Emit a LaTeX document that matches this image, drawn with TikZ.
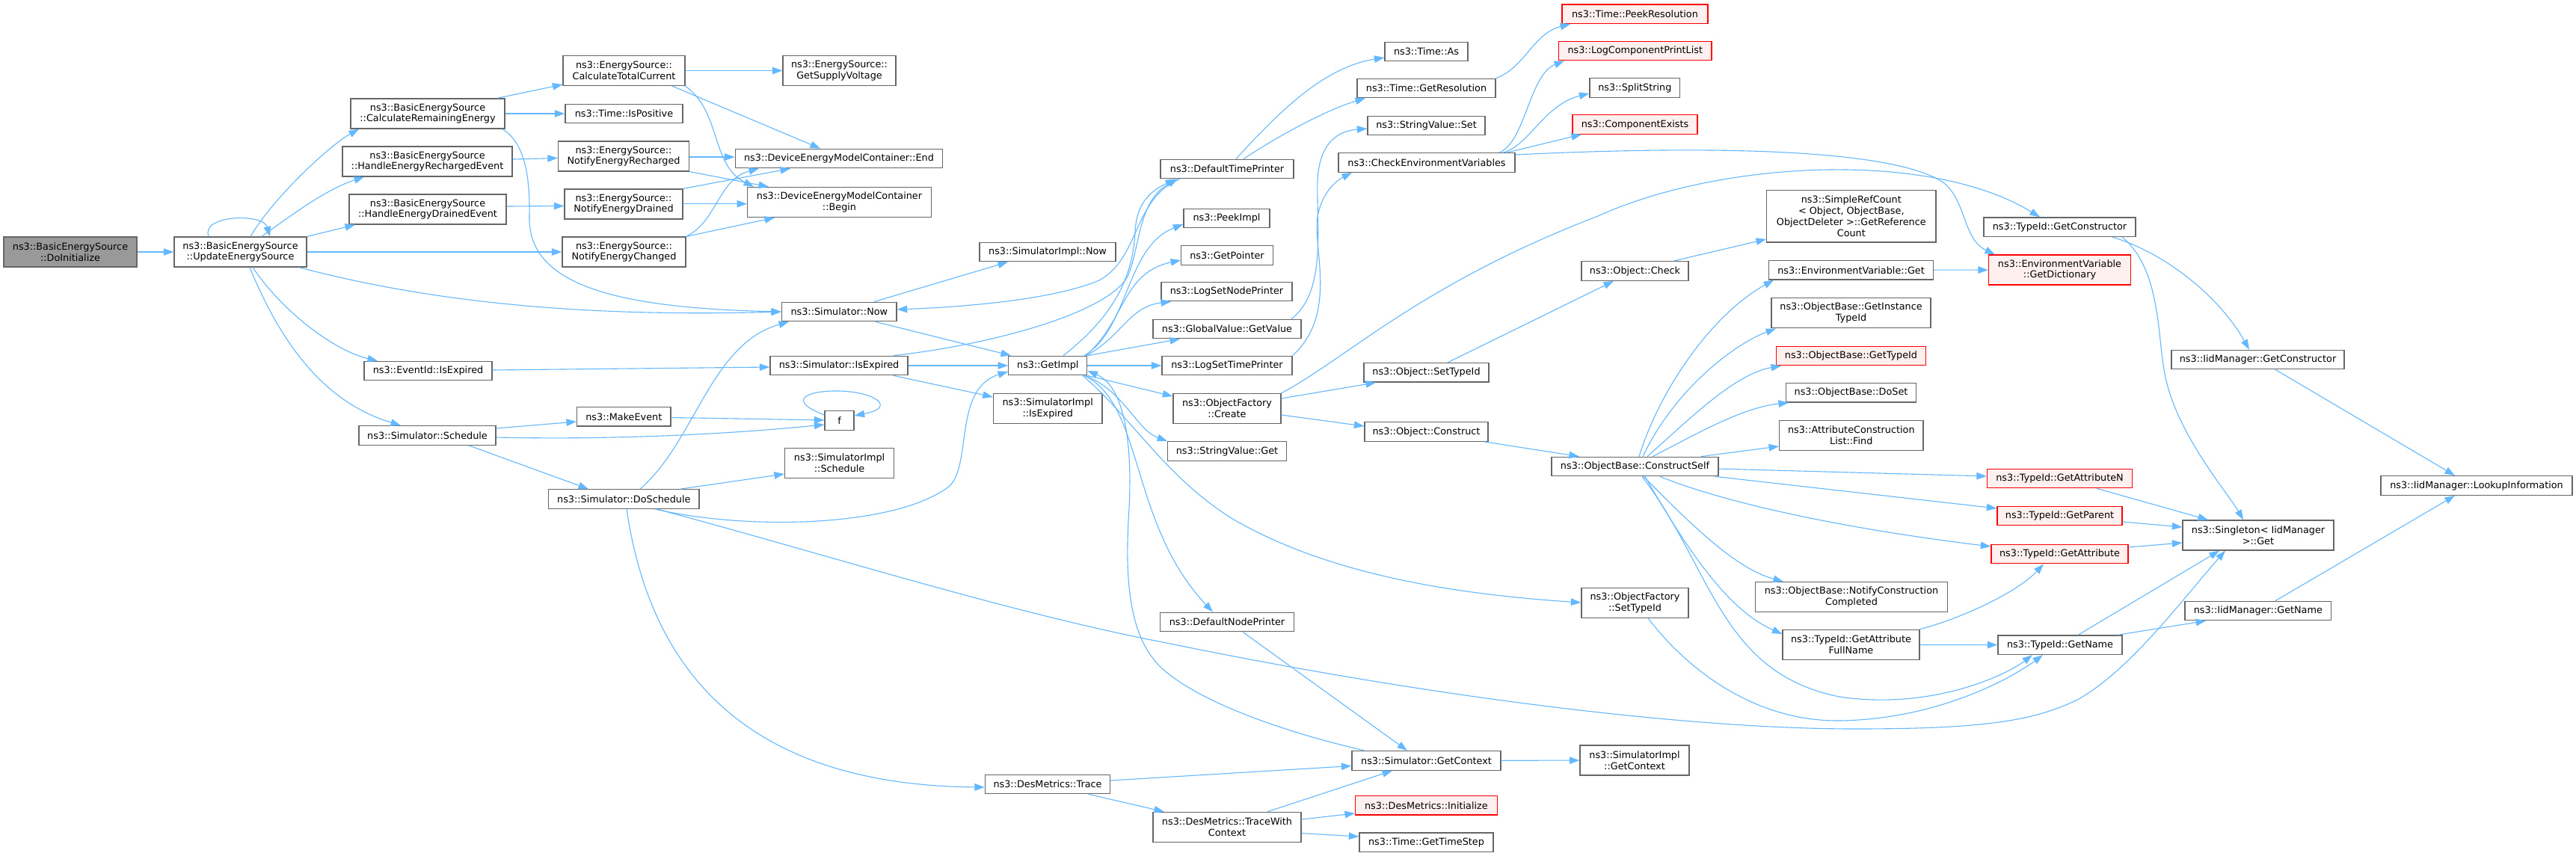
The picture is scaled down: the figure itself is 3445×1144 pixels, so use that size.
\documentclass[tikz,border=0pt]{standalone}
\usepackage{fontspec}
\newfontfamily\dv{DejaVu Sans}
\usetikzlibrary{arrows.meta}
\definecolor{edgeblue}{HTML}{63B8FF}
\definecolor{boxgray}{HTML}{666666}
\definecolor{boxred}{HTML}{FF0000}
\definecolor{redfill}{HTML}{FFF0F0}
\definecolor{rootgray}{HTML}{999999}
\tikzset{
  box/.style={draw=boxgray, fill=white, line width=1.3pt, inner sep=0pt, align=center,
    font={\dv\fontsize{12.8}{14.8}\selectfont}},
  rbox/.style={box, draw=boxred, fill=redfill},
  wd/.style={minimum width=#1pt},
  one/.style={minimum height=25.5pt},
  two/.style={minimum height=40pt},
  edge/.style={draw=edgeblue, line width=1.1pt, -{Triangle[length=13.5pt,width=9.5pt]}},
}
\begin{document}
\begin{tikzpicture}[x=1pt,y=-1pt]
\useasboundingbox (0,0) rectangle (3445,1144);
\fill[white] (0,0) rectangle (3445,1144);
% column 0-2
\node[box,wd=178,two,fill=rootgray] (doinit) at (94,337) {ns3::BasicEnergySource\\::DoInitialize};
\node[box,wd=177,two] (upd) at (321.5,337) {ns3::BasicEnergySource\\::UpdateEnergySource};
\node[box,wd=206,two] (cre) at (572,152) {ns3::BasicEnergySource\\::CalculateRemainingEnergy};
\node[box,wd=227,two] (here) at (571.5,216) {ns3::BasicEnergySource\\::HandleEnergyRechargedEvent};
\node[box,wd=210,two] (hede) at (572,280) {ns3::BasicEnergySource\\::HandleEnergyDrainedEvent};
\node[box,wd=171,one] (eidexp) at (572.5,496) {ns3::EventId::IsExpired};
\node[box,wd=183,one] (sched) at (571.5,582.5) {ns3::Simulator::Schedule};
% column 3
\node[box,wd=163,two] (ctc) at (834.5,94.5) {ns3::EnergySource::\\CalculateTotalCurrent};
\node[box,wd=157,one] (ispos) at (834.5,152) {ns3::Time::IsPositive};
\node[box,wd=175,two] (ner) at (834,209) {ns3::EnergySource::\\NotifyEnergyRecharged};
\node[box,wd=158,two] (ned) at (834,273) {ns3::EnergySource::\\NotifyEnergyDrained};
\node[box,wd=165,two] (nec) at (834.5,337) {ns3::EnergySource::\\NotifyEnergyChanged};
\node[box,wd=125.5,one] (mkev) at (834.3,557.3) {ns3::MakeEvent};
\node[box,wd=201.4,one] (dosch) at (834.3,667.5) {ns3::Simulator::DoSchedule};
% column 4
\node[box,wd=151,two] (gsv) at (1122.5,94.5) {ns3::EnergySource::\\GetSupplyVoltage};
\node[box,wd=277.5,one] (dend) at (1122,212) {ns3::DeviceEnergyModelContainer::End};
\node[box,wd=245.5,two] (dbeg) at (1122.5,270.5) {ns3::DeviceEnergyModelContainer\\::Begin};
\node[box,wd=153.5,one] (now) at (1122.3,417) {ns3::Simulator::Now};
\node[box,wd=184,one] (simexp) at (1122,489) {ns3::Simulator::IsExpired};
\node[box,wd=39,one] (f) at (1122.5,562.5) {f};
\node[box,wd=146,two] (sisch) at (1122.6,619.5) {ns3::SimulatorImpl\\::Schedule};
% column 5
\node[box,wd=182,one] (sinow) at (1401,337) {ns3::SimulatorImpl::Now};
\node[box,wd=105,one] (getimpl) at (1401.3,489) {ns3::GetImpl};
\node[box,wd=145.5,two] (siexp) at (1401.2,546.5) {ns3::SimulatorImpl\\::IsExpired};
\node[box,wd=167,one] (destrace) at (1401,1049) {ns3::DesMetrics::Trace};
% column 6
\node[box,wd=178,one] (dtp) at (1641,226) {ns3::DefaultTimePrinter};
\node[box,wd=115,one] (peek) at (1640.5,292) {ns3::PeekImpl};
\node[box,wd=122.5,one] (getptr) at (1641,341.5) {ns3::GetPointer};
\node[box,wd=175,one] (lsnp) at (1640.5,390) {ns3::LogSetNodePrinter};
\node[box,wd=198,one] (gvget) at (1641,440) {ns3::GlobalValue::GetValue};
\node[box,wd=174,one] (lstp) at (1641,489) {ns3::LogSetTimePrinter};
\node[box,wd=144,two] (ofcreate) at (1641,546.5) {ns3::ObjectFactory\\::Create};
\node[box,wd=158.5,one] (svget) at (1641,603.5) {ns3::StringValue::Get};
\node[box,wd=179,one] (dnp) at (1641,832) {ns3::DefaultNodePrinter};
\node[box,wd=198,two] (dtwc) at (1641,1106.4) {ns3::DesMetrics::TraceWith\\Context};
% column 7
\node[box,wd=111,one] (timeas) at (1907.5,69) {ns3::Time::As};
\node[box,wd=185,one] (getres) at (1907.5,118) {ns3::Time::GetResolution};
\node[box,wd=157,one] (svset) at (1907.5,168) {ns3::StringValue::Set};
\node[box,wd=236,one] (cev) at (1908,217.5) {ns3::CheckEnvironmentVariables};
\node[box,wd=167,one] (setid) at (1907.5,498.3) {ns3::Object::SetTypeId};
\node[box,wd=165,one] (construct) at (1907.5,577.5) {ns3::Object::Construct};
\node[box,wd=199,one] (getctx) at (1907.5,1017.4) {ns3::Simulator::GetContext};
\node[rbox,wd=189.6,one] (desinit) at (1907.4,1077.3) {ns3::DesMetrics::Initialize};
\node[box,wd=179,one] (timestep) at (1907.5,1126.8) {ns3::Time::GetTimeStep};
% column 8
\node[rbox,wd=195,one] (peekres) at (2186.5,18.8) {ns3::Time::PeekResolution};
\node[rbox,wd=204.5,one] (lcpl) at (2186.8,68) {ns3::LogComponentPrintList};
\node[box,wd=120.5,one] (split) at (2186.3,117.5) {ns3::SplitString};
\node[rbox,wd=167,one] (compex) at (2186.5,166.5) {ns3::ComponentExists};
\node[box,wd=143,one] (check) at (2186.5,362.5) {ns3::Object::Check};
\node[box,wd=223,one] (cself) at (2186.5,624) {ns3::ObjectBase::ConstructSelf};
\node[box,wd=143,two] (ofsettid) at (2186.5,806.3) {ns3::ObjectFactory\\::SetTypeId};
\node[box,wd=146,two] (sigctx) at (2186,1017) {ns3::SimulatorImpl\\::GetContext};
% column 9
\node[box,wd=226.3,minimum height=69.5pt] (srefc) at (2475.8,289.3) {ns3::SimpleRefCount\\< Object, ObjectBase,\\ ObjectDeleter >::GetReference\\Count};
\node[box,wd=220,one] (envget) at (2475.5,361.3) {ns3::EnvironmentVariable::Get};
\node[box,wd=213,two] (instid) at (2475.5,418.8) {ns3::ObjectBase::GetInstance\\TypeId};
\node[rbox,wd=200,one] (obgettid) at (2475.5,476) {ns3::ObjectBase::GetTypeId};
\node[box,wd=174.5,one] (doset) at (2475.5,525.3) {ns3::ObjectBase::DoSet};
\node[box,wd=192.3,two] (acfind) at (2475.8,582.5) {ns3::AttributeConstruction\\List::Find};
\node[box,wd=257,two] (notify) at (2476,798.6) {ns3::ObjectBase::NotifyConstruction\\Completed};
\node[box,wd=183,two] (gafn) at (2475.5,862.3) {ns3::TypeId::GetAttribute\\FullName};
% column 10
\node[box,wd=203,one] (getctor) at (2754.5,303.7) {ns3::TypeId::GetConstructor};
\node[rbox,wd=190,two] (getdict) at (2754.5,361) {ns3::EnvironmentVariable\\::GetDictionary};
\node[rbox,wd=194,one] (gattrn) at (2754.5,640) {ns3::TypeId::GetAttributeN};
\node[rbox,wd=167,one] (gparent) at (2754.5,690) {ns3::TypeId::GetParent};
\node[rbox,wd=183,one] (gattr) at (2754.5,741) {ns3::TypeId::GetAttribute};
\node[box,wd=166,one] (tgetname) at (2755,862.7) {ns3::TypeId::GetName};
% column 11-12
\node[box,wd=231,one] (iidctor) at (3019.5,481) {ns3::IidManager::GetConstructor};
\node[box,wd=202,two] (singleton) at (3020,716) {ns3::Singleton< IidManager\\>::Get};
\node[box,wd=195.5,one] (iidname) at (3019.8,817) {ns3::IidManager::GetName};
\node[box,wd=256,one] (lookup) at (3312,649.5) {ns3::IidManager::LookupInformation};

% ---------------- edges ----------------
\draw[edge] (doinit) -- (upd);
\draw[edge] (upd.north -| 279,0) .. controls (268,287) and (352,285) .. (upd.north -| 361,0);
\draw[edge] (upd.north -| 335,0) .. controls (365,265) and (440,195) .. (cre.south -| 480,0);
\draw[edge] (upd.north -| 350,0) .. controls (400,280) and (440,252) .. (here.south -| 487,0);
\draw[edge] (upd.north east) -- (hede.south -| 475,0);
\draw[edge] (upd.east) -- (nec.west);
\draw[edge] (upd.south -| 400,0) .. controls (560,400) and (760,425) .. (now.west);
\draw[edge] (upd.south -| 338,0) .. controls (380,420) and (450,470) .. (eidexp.north -| 505,0);
\draw[edge] (upd.south -| 334,0) .. controls (380,470) and (440,540) .. (sched.north -| 536,0);
\draw[edge] (cre.north -| 665,0) -- (ctc.west |- 0,113);
\draw[edge] (cre) -- (ispos);
\draw[edge] (cre.south -| 672,0) .. controls (700,190) and (709,230) .. (708,290) .. controls (706,380) and (820,412) .. (now.west);
\draw[edge] (here.east |- 0,213) -- (ner.west |- 0,211.5);
\draw[edge] (hede.east |- 0,276) -- (ned.west |- 0,275.5);
\draw[edge] (ctc) -- (gsv);
\draw[edge] (ctc.south -| 899,0) -- (dend.north -| 1097,0);
\draw[edge] (ctc.south east) .. controls (965,150) and (950,220) .. (dbeg.north -| 1008,0);
\draw[edge] (ner.east |- 0,210) -- (dend.west |- 0,210);
\draw[edge] (ner.south east) -- (dbeg.north -| 1028,0);
\draw[edge] (ned.north east) -- (dend.south -| 1057,0);
\draw[edge] (ned.east |- 0,272.7) -- (dbeg.west |- 0,272.7);
\draw[edge] (nec.north east) .. controls (960,295) and (960,240) .. (dend.south -| 1015,0);
\draw[edge] (nec.north east) -- (dbeg.south -| 1036,0);
\draw[edge] (now.north -| 1169,0) -- (sinow.south -| 1348,0);
\draw[edge] (now.south -| 1171,0) -- (getimpl.north -| 1352,0);
\draw[edge] (dtp.south -| 1578,0) .. controls (1515,265) and (1525,345) .. (1470,375) .. controls (1410,400) and (1300,410) .. (now.east |- 0,414);
\draw[edge] (simexp.north -| 1195,0) .. controls (1320,462) and (1480,420) .. (1508,370) .. controls (1525,330) and (1522,268) .. (dtp.south -| 1575,0);
\draw[edge] (getimpl.north -| 1422,0) .. controls (1480,430) and (1515,380) .. (1518,310) .. controls (1520,270) and (1540,255) .. (dtp.south -| 1572,0);
\draw[edge] (getimpl.north -| 1450,0) .. controls (1510,440) and (1505,330) .. (peek.west |- 0,300);
\draw[edge] (getimpl.north -| 1452,0) .. controls (1505,430) and (1500,365) .. (getptr.west |- 0,348);
\draw[edge] (getimpl.north -| 1453,0) .. controls (1500,450) and (1510,410) .. (lsnp.south -| 1566,0);
\draw[edge] (getimpl.north east) -- (gvget.south -| 1578,0);
\draw[edge] (getimpl) -- (lstp);
\draw[edge] (getimpl.south east) -- (ofcreate.west |- 0,530);
\draw[edge] (getimpl.south -| 1452,0) .. controls (1505,525) and (1520,575) .. (svget.north west);
\draw[edge] (getimpl.south -| 1450,0) .. controls (1530,540) and (1510,700) .. (dnp.north -| 1622,0);
\draw[edge] (getctx.north -| 1825,0) .. controls (1700,975) and (1600,935) .. (1555,895) .. controls (1505,850) and (1505,760) .. (1510,680) .. controls (1515,580) and (1500,515) .. (getimpl.east |- 0,496);
\draw[edge] (getimpl.south -| 1448,0) .. controls (1515,560) and (1560,640) .. (1650,695) .. controls (1780,770) and (1950,795) .. (ofsettid.west |- 0,806);
\draw[edge] (dnp.south -| 1662,0) -- (getctx.north -| 1882,0);
\draw[edge] (simexp) -- (getimpl);
\draw[edge] (simexp.south -| 1195,0) -- (siexp.west |- 0,531);
\draw[edge] (eidexp.east |- 0,495) -- (simexp.west |- 0,491);
\draw[edge] (sched.east |- 0,573) -- (mkev.west |- 0,564);
\draw[edge] (sched.east |- 0,585) .. controls (800,588) and (950,583) .. (f.west |- 0,568);
\draw[edge] (mkev.east |- 0,558.5) -- (f.west |- 0,562);
\draw[edge] (f.west |- 0,555) .. controls (1050,535) and (1080,522) .. (1122,523) .. controls (1170,524) and (1200,545) .. (f.east |- 0,556);
\draw[edge] (sched.south -| 627,0) -- (dosch.north -| 787,0);
\draw[edge] (dosch.north -| 910,0) -- (sisch.west |- 0,634);
\draw[edge] (dosch.north -| 856,0) .. controls (930,590) and (950,460) .. (now.south -| 1055,0);
\draw[edge] (dosch.south -| 876,0) .. controls (1000,710) and (1200,705) .. (1270,650) .. controls (1300,620) and (1275,520) .. (getimpl.west |- 0,497);
\draw[edge] (dosch.south -| 838,0) .. controls (870,900) and (1000,1050) .. (destrace.west |- 0,1053);
\draw[edge] (dosch.south -| 878,0) .. controls (1100,740) and (1350,820) .. (1560,860) .. controls (1900,930) and (2250,975) .. (2480,975) .. controls (2650,975) and (2720,965) .. (2780,935) .. controls (2850,895) and (2920,800) .. (singleton.south -| 2976,0);
\draw[edge] (destrace.east |- 0,1044) -- (getctx.west |- 0,1024.5);
\draw[edge] (destrace.south -| 1456,0) -- (dtwc.north -| 1557,0);
\draw[edge] (dtwc.north -| 1695,0) -- (getctx.south -| 1862,0);
\draw[edge] (dtwc.east |- 0,1096) -- (desinit.west |- 0,1088);
\draw[edge] (dtwc.east |- 0,1114.6) -- (timestep.west |- 0,1119);
\draw[edge] (getctx) -- (sigctx);
\draw[edge] (dtp.north -| 1653,0) .. controls (1710,150) and (1770,90) .. (timeas.west |- 0,77);
\draw[edge] (dtp.north -| 1663,0) .. controls (1720,175) and (1780,145) .. (getres.south -| 1826,0);
\draw[edge] (getres.north east) .. controls (2040,90) and (2050,45) .. (peekres.south -| 2100,0);
\draw[edge] (lstp.north east) .. controls (1790,420) and (1755,330) .. (1762,290) .. controls (1768,255) and (1790,240) .. (cev.south -| 1808,0);
\draw[edge] (gvget.north -| 1727,0) .. controls (1775,390) and (1760,300) .. (1762,240) .. controls (1765,190) and (1790,175) .. (svset.west |- 0,172);
\draw[edge] (cev.north -| 2005,0) .. controls (2040,190) and (2045,100) .. (lcpl.south -| 2092,0);
\draw[edge] (cev.north -| 2010,0) .. controls (2045,195) and (2065,140) .. (split.west |- 0,125);
\draw[edge] (cev.north -| 2015,0) -- (compex.south -| 2115,0);
\draw[edge] (cev.east |- 0,207) .. controls (2250,196) and (2530,195) .. (2600,245) .. controls (2630,270) and (2625,320) .. (getdict.north -| 2668,0);
\draw[edge] (ofcreate.north east) .. controls (1800,480) and (1900,380) .. (2137,289) .. controls (2300,215) and (2580,200) .. (getctor.north -| 2728,0);
\draw[edge] (ofcreate.east |- 0,533) -- (setid.south -| 1840,0);
\draw[edge] (ofcreate.east |- 0,555) -- (construct.west |- 0,570);
\draw[edge] (setid.north -| 1936,0) -- (check.south -| 2158,0);
\draw[edge] (check.north -| 2238,0) -- (srefc.west |- 0,320);
\draw[edge] (construct.south -| 1985,0) -- (cself.north -| 2112,0);
\draw[edge] (cself.north -| 2192,0) .. controls (2220,520) and (2290,420) .. (envget.south -| 2372,0);
\draw[edge] (cself.north -| 2197,0) .. controls (2240,520) and (2320,460) .. (instid.south -| 2375,0);
\draw[edge] (cself.north -| 2203,0) .. controls (2260,560) and (2320,500) .. (obgettid.south -| 2382,0);
\draw[edge] (cself.north -| 2210,0) .. controls (2270,580) and (2330,545) .. (doset.south -| 2392,0);
\draw[edge] (cself.north -| 2275,0) -- (acfind.west |- 0,597);
\draw[edge] (cself.east |- 0,627) -- (gattrn.west |- 0,637);
\draw[edge] (cself.south -| 2294,0) -- (gparent.west |- 0,680);
\draw[edge] (cself.south -| 2220,0) .. controls (2300,670) and (2450,705) .. (gattr.west |- 0,731);
\draw[edge] (cself.south -| 2198,0) .. controls (2260,700) and (2320,760) .. (notify.north -| 2385,0);
\draw[edge] (cself.south -| 2200,0) .. controls (2270,760) and (2320,820) .. (gafn.west |- 0,848);
\draw[edge] (cself.south -| 2196,0) .. controls (2290,760) and (2300,900) .. (2460,932) .. controls (2580,950) and (2680,905) .. (tgetname.south -| 2718,0);
\draw[edge] (gafn.north east) .. controls (2630,825) and (2700,790) .. (gattr.south -| 2733,0);
\draw[edge] (gafn) -- (tgetname);
\draw[edge] (ofsettid.south -| 2204,0) .. controls (2260,900) and (2350,965) .. (2460,964) .. controls (2600,962) and (2700,900) .. (tgetname.south -| 2732,0);
\draw[edge] (envget) -- (getdict);
\draw[edge] (getctor.south -| 2825,0) .. controls (2900,340) and (2970,400) .. (iidctor.north -| 3008,0);
\draw[edge] (getctor.south -| 2838,0) .. controls (2890,360) and (2885,450) .. (2895,500) .. controls (2910,580) and (2980,660) .. (singleton.north -| 3000,0);
\draw[edge] (iidctor.south -| 3043,0) -- (lookup.north -| 3283,0);
\draw[edge] (gattrn.south -| 2804,0) -- (singleton.north -| 2953,0);
\draw[edge] (gparent.east |- 0,698) -- (singleton.west |- 0,705);
\draw[edge] (gattr.east |- 0,732) -- (singleton.west |- 0,726);
\draw[edge] (tgetname.north -| 2779,0) -- (singleton.south -| 2968,0);
\draw[edge] (tgetname.north -| 2832,0) -- (iidname.south -| 2950,0);
\draw[edge] (iidname.north -| 3043,0) -- (lookup.south -| 3283,0);
\end{tikzpicture}
\end{document}
